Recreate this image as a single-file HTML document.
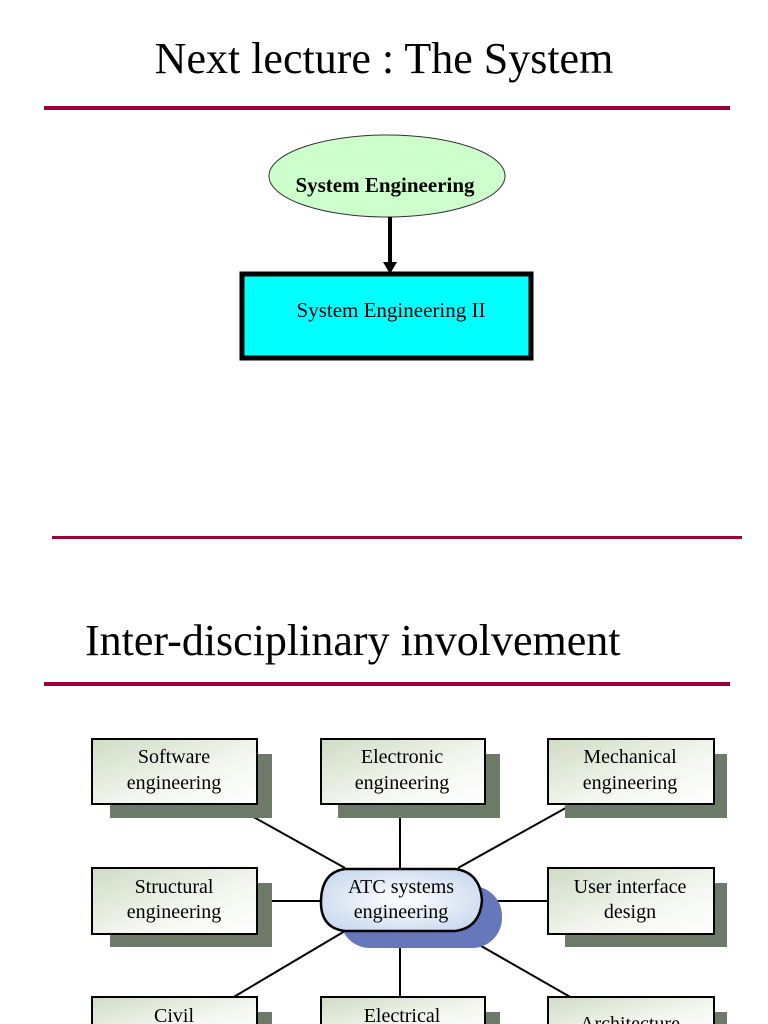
<!DOCTYPE html>
<html><head><meta charset="utf-8"><style>
html,body{margin:0;padding:0;background:#fff;}
svg{display:block}
text{font-family:"Liberation Serif",serif;}
</style></head><body>
<svg width="768" height="1024" viewBox="0 0 768 1024" xmlns="http://www.w3.org/2000/svg">
<defs>
<linearGradient id="g" x1="0" y1="0" x2="1" y2="1">
<stop offset="0" stop-color="#cfdcc4"/><stop offset="0.6" stop-color="#f4f7f0"/><stop offset="1" stop-color="#ffffff"/>
</linearGradient>
<radialGradient id="e" cx="0.5" cy="0.5" r="0.6">
<stop offset="0" stop-color="#ffffff"/><stop offset="1" stop-color="#c9d9ee"/>
</radialGradient>
</defs>
<text x="384" y="73" font-size="44" text-anchor="middle">Next lecture : The System</text>
<rect x="44" y="106" width="686" height="4" fill="#990033"/>
<ellipse cx="387" cy="176" rx="118" ry="41" fill="#ccffcc" stroke="#333" stroke-width="1"/>
<text x="385" y="192" font-size="21" font-weight="bold" text-anchor="middle">System Engineering</text>
<line x1="390" y1="217" x2="390" y2="264" stroke="#000" stroke-width="4"/>
<polygon points="383,262 397,262 390,274" fill="#000"/>
<rect x="242" y="274" width="289" height="84" fill="#00ffff" stroke="#000" stroke-width="5"/>
<text x="391" y="317" font-size="21" text-anchor="middle">System Engineering II</text>
<rect x="52" y="536" width="690" height="3" fill="#990033"/>
<text x="85" y="655" font-size="44">Inter-disciplinary involvement</text>
<rect x="44" y="682" width="686" height="4" fill="#990033"/>
<g stroke="#000" stroke-width="2">
<line x1="223" y1="800" x2="345" y2="868"/>
<line x1="400" y1="800" x2="400" y2="868"/>
<line x1="580" y1="800" x2="458" y2="868"/>
<line x1="258" y1="901" x2="322" y2="901"/>
<line x1="480" y1="901" x2="548" y2="901"/>
<line x1="345" y1="931" x2="232" y2="998"/>
<line x1="400" y1="931" x2="400" y2="998"/>
<line x1="455" y1="931" x2="572" y2="998"/>
</g>
<g>
<rect x="110" y="754" width="162" height="64" fill="#6e7a68"/>
<rect x="92" y="739" width="165" height="65" fill="url(#g)" stroke="#000" stroke-width="2"/>
<text x="174" y="763" font-size="20" text-anchor="middle">Software</text>
<text x="174" y="789" font-size="20" text-anchor="middle">engineering</text>
<rect x="338" y="754" width="162" height="64" fill="#6e7a68"/>
<rect x="321" y="739" width="164" height="65" fill="url(#g)" stroke="#000" stroke-width="2"/>
<text x="402" y="763" font-size="20" text-anchor="middle">Electronic</text>
<text x="402" y="789" font-size="20" text-anchor="middle">engineering</text>
<rect x="565" y="754" width="162" height="64" fill="#6e7a68"/>
<rect x="548" y="739" width="166" height="65" fill="url(#g)" stroke="#000" stroke-width="2"/>
<text x="630" y="763" font-size="20" text-anchor="middle">Mechanical</text>
<text x="630" y="789" font-size="20" text-anchor="middle">engineering</text>
<rect x="110" y="883" width="162" height="64" fill="#6e7a68"/>
<rect x="92" y="868" width="165" height="66" fill="url(#g)" stroke="#000" stroke-width="2"/>
<text x="174" y="893" font-size="20" text-anchor="middle">Structural</text>
<text x="174" y="918" font-size="20" text-anchor="middle">engineering</text>
<rect x="565" y="883" width="162" height="64" fill="#6e7a68"/>
<rect x="548" y="868" width="166" height="66" fill="url(#g)" stroke="#000" stroke-width="2"/>
<text x="630" y="893" font-size="20" text-anchor="middle">User interface</text>
<text x="630" y="918" font-size="20" text-anchor="middle">design</text>
<rect x="110" y="1012" width="162" height="20" fill="#6e7a68"/>
<rect x="92" y="997" width="165" height="40" fill="url(#g)" stroke="#000" stroke-width="2"/>
<text x="174" y="1022" font-size="20" text-anchor="middle">Civil</text>
<rect x="338" y="1012" width="162" height="20" fill="#6e7a68"/>
<rect x="321" y="997" width="164" height="40" fill="url(#g)" stroke="#000" stroke-width="2"/>
<text x="402" y="1022" font-size="20" text-anchor="middle">Electrical</text>
<rect x="565" y="1012" width="162" height="20" fill="#6e7a68"/>
<rect x="548" y="997" width="166" height="40" fill="url(#g)" stroke="#000" stroke-width="2"/>
<text x="630" y="1030" font-size="20" text-anchor="middle">Architecture</text>
</g>
<rect x="340" y="886" width="162" height="62" rx="30" fill="#6677bb"/>
<path d="M345,869 L455,869 Q480,872 482,900 Q480,928 455,931 L345,931 Q320,928 321,900 Q322,872 345,869 Z" fill="url(#e)" stroke="#000" stroke-width="2.5"/>
<text x="401" y="893" font-size="20" text-anchor="middle">ATC systems</text>
<text x="401" y="918" font-size="20" text-anchor="middle">engineering</text>
</svg>
</body></html>
